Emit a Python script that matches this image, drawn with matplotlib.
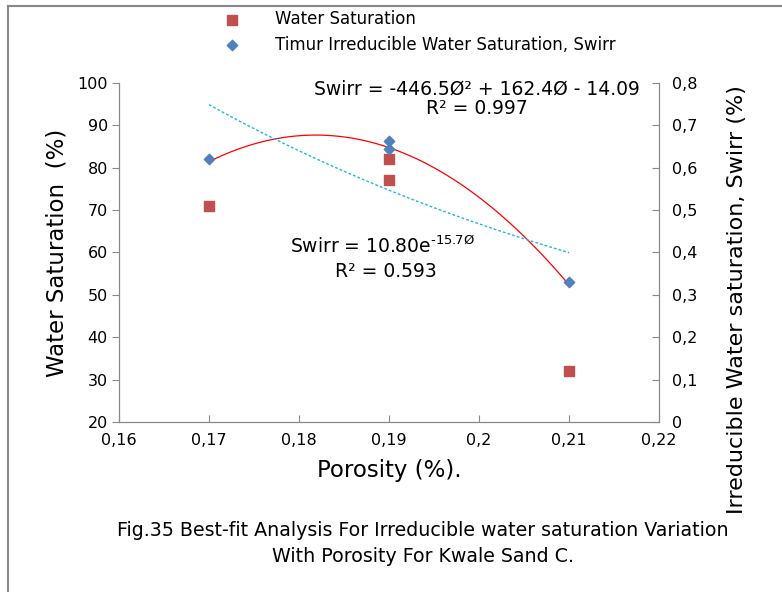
import numpy as np
import matplotlib.pyplot as plt
from matplotlib.ticker import FuncFormatter, MultipleLocator

plt.rcParams['font.family'] = ['DejaVu Sans']
plt.rcParams['mathtext.default'] = 'regular'

# data
porosity = [0.17, 0.19, 0.19, 0.21]
water_sat = [71, 82, 77, 32]            # left axis (%)
swirr_por = [0.17, 0.19, 0.19, 0.21]
swirr = [0.62, 0.664, 0.643, 0.33]      # right axis

# trendline coefficients shown on the chart
poly_coef = [-446.5, 162.4, -14.09]
exp_a, exp_b = 10.80, -15.7

grey = '#888888'

fig = plt.figure(figsize=(7.82, 5.92), dpi=100)
ax = fig.add_axes([0.152, 0.287, 0.691, 0.573])
ax2 = ax.twinx()

ax.scatter(porosity, water_sat, marker='s', s=55, color='#C0504D', zorder=3,
           label='Water Saturation')
ax2.scatter(swirr_por, swirr, marker='D', s=28, color='#4F81BD', zorder=3,
            label='Timur Irreducible Water Saturation, Swirr')

xs = np.linspace(min(swirr_por), max(swirr_por), 200)
ax2.plot(xs, np.polyval(poly_coef, xs), color='red', lw=0.9)
ax2.plot(xs, exp_a * np.exp(exp_b * xs), color='#1FB4EE', lw=1.0, ls=(0, (2, 1.5)))

ax.set_xlim(0.16, 0.22)
ax.set_ylim(20, 100)
ax2.set_ylim(0, 0.8)
ax.xaxis.set_major_locator(MultipleLocator(0.01))
ax.yaxis.set_major_locator(MultipleLocator(10))
ax2.yaxis.set_major_locator(MultipleLocator(0.1))

comma = FuncFormatter(lambda v, p: ('%g' % round(v, 3)).replace('.', ','))
ax.xaxis.set_major_formatter(comma)
ax2.yaxis.set_major_formatter(comma)

for a in (ax, ax2):
    for s in a.spines.values():
        s.set_color(grey)
    a.spines['top'].set_visible(False)
ax.tick_params(axis='y', direction='out', length=5, color=grey, labelsize=11.5, pad=3)
ax.tick_params(axis='x', direction='in', length=5, color=grey, labelsize=11.5, pad=8)
ax2.tick_params(axis='y', which='both', direction='in', length=5, color=grey,
                labelsize=11.5, pad=9)

ax.set_xlabel('Porosity (%).', fontsize=16.5, labelpad=8)
ax.set_ylabel('Water Saturation  (%)', fontsize=16.5, labelpad=6)
fig.text(737 / 782, 1 - 300 / 592, 'Irreducible Water saturation, Swirr (%)',
         rotation=90, fontsize=16, ha='center', va='center')

ax2.text(0.1998, 0.763, 'Swirr = -446.5Ø² + 162.4Ø - 14.09\nR² = 0.997',
         ha='center', va='center', fontsize=13.5, linespacing=1.05)
ax.text(0.1893, 61.5, r'Swirr = 10.80e$^{\text{-15.7Ø}}$', ha='center', va='center',
        fontsize=13.5)
ax.text(0.1896, 55.6, 'R² = 0.593', ha='center', va='center', fontsize=13.5)

h1, l1 = ax.get_legend_handles_labels()
h2, l2 = ax2.get_legend_handles_labels()
fig.legend(h1 + h2, l1 + l2, loc='upper left', bbox_to_anchor=(0.256, 1.008),
           frameon=False, fontsize=12, handletextpad=1.6, labelspacing=0.45)

# outer frame lines (left and top)
fig.add_artist(plt.Line2D([8 / 782, 8 / 782], [0, 1 - 6 / 592], color=grey, lw=1.5))
fig.add_artist(plt.Line2D([8 / 782, 1], [1 - 6 / 592, 1 - 6 / 592], color=grey, lw=1.5))

fig.text(423 / 782, 1 - 531 / 592, 'Fig.35 Best-fit Analysis For Irreducible water saturation Variation',
         ha='center', va='center', fontsize=13.7)
fig.text(423 / 782, 1 - 556 / 592, 'With Porosity For Kwale Sand C.',
         ha='center', va='center', fontsize=13.7)

fig.savefig('out.png', dpi=100)
